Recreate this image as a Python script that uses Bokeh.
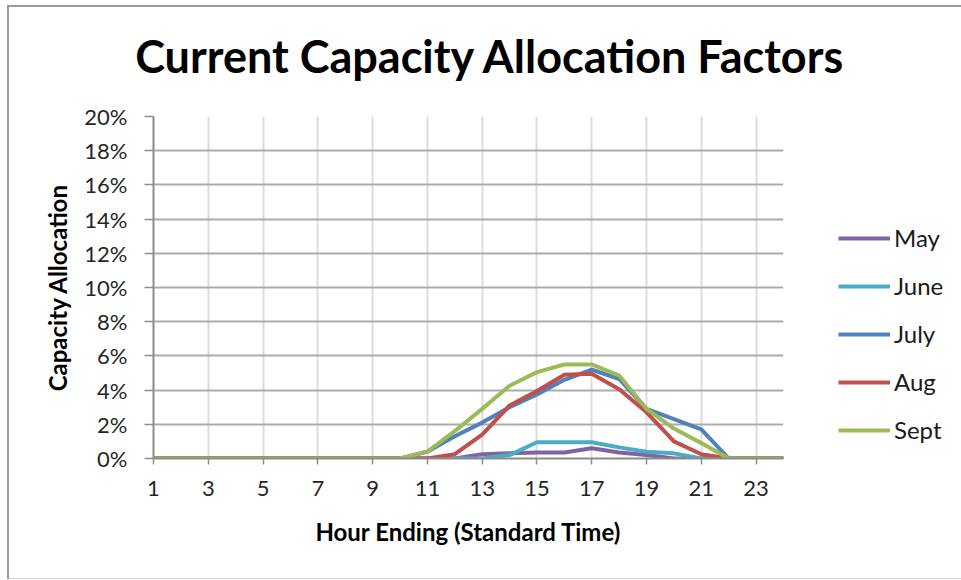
from bokeh.plotting import figure
from bokeh.models import (FixedTicker, PrintfTickFormatter, Legend, LegendItem,
                          Range1d, Label)
from bokeh.embed import file_html
from bokeh.resources import INLINE

# Hour ending (standard time)
hours = list(range(1, 25))

# Capacity allocation factor by hour, in percent
may = [0, 0, 0, 0, 0, 0, 0, 0, 0, 0, 0, 0,
       0.25, 0.3, 0.35, 0.35, 0.6, 0.35, 0.2, 0, 0, 0, 0, 0]
june = [0, 0, 0, 0, 0, 0, 0, 0, 0, 0, 0, 0,
        0, 0.2, 0.95, 0.95, 0.95, 0.65, 0.4, 0.3, 0, 0, 0, 0]
july = [0, 0, 0, 0, 0, 0, 0, 0, 0, 0, 0.4, 1.3,
        2.1, 3.0, 3.75, 4.6, 5.2, 4.65, 2.9, 2.3, 1.7, 0, 0, 0]
aug = [0, 0, 0, 0, 0, 0, 0, 0, 0, 0, 0, 0.25,
       1.4, 3.1, 3.95, 4.9, 4.95, 4.05, 2.7, 1.0, 0.25, 0, 0, 0]
sept = [0, 0, 0, 0, 0, 0, 0, 0, 0, 0, 0.4, 1.6,
        2.9, 4.25, 5.05, 5.5, 5.5, 4.85, 2.9, 1.75, 0.9, 0, 0, 0]

series_names = ["May", "June", "July", "Aug", "Sept"]
series_values = [may, june, july, aug, sept]
series_colors = ["#8064A2", "#4BACC6", "#4F81BD", "#C0504D", "#9BBB59"]

x_ticks = list(range(1, 24, 2))
y_ticks = list(range(0, 21, 2))

FONT = "Lato"

p = figure(frame_width=630, frame_height=342,
           output_backend="svg", toolbar_location=None,
           x_range=Range1d(1, 24), y_range=Range1d(0, 20),
           min_border_left=146, min_border_right=171,
           min_border_top=111, min_border_bottom=121,
           margin=(5, 0, 0, 7))
p.outline_line_color = None
p.background_fill_color = "white"
p.border_fill_alpha = 0
# chart area border on the left, top and bottom edges
p.styles = {"box-shadow": "inset 2px 2px 0 #9a9a9a, inset 0 -1px 0 #d4d4d4",
            "background-color": "white"}

# chart title, placed in the panel above the plot area
p.add_layout(Label(x=337, y=61, x_units="screen", y_units="screen",
                   text="Current Capacity Allocation Factors",
                   text_font=FONT, text_font_style="bold",
                   text_font_size="45px", text_color="black",
                   text_align="center", text_baseline="middle"), "above")

# axes
for ax in (p.xaxis, p.yaxis):
    ax.axis_line_color = "#8c8c8c"
    ax.axis_line_width = 2
    ax.major_tick_line_color = "#8c8c8c"
    ax.major_tick_line_width = 1.5
    ax.major_tick_in = 0
    ax.minor_tick_line_color = None
    ax.major_label_text_font = FONT
    ax.major_label_text_font_size = "22px"
    ax.major_label_text_color = "#262626"
    ax.axis_label_text_font = FONT
    ax.axis_label_text_font_style = "bold"
    ax.axis_label_text_font_size = "24px"
    ax.axis_label_text_color = "black"

p.xaxis.ticker = FixedTicker(ticks=x_ticks)
p.xaxis.major_tick_out = 6
p.xaxis.major_label_standoff = 16
p.xaxis.axis_label = "Hour Ending (Standard Time)"
p.xaxis.axis_label_standoff = 18

p.yaxis.ticker = FixedTicker(ticks=y_ticks)
p.yaxis.formatter = PrintfTickFormatter(format="%d%%")
p.yaxis.major_tick_out = 9
p.yaxis.major_label_standoff = 17
p.yaxis.axis_label = "Capacity Allocation"
p.yaxis.axis_label_standoff = 9

# gridlines
p.xgrid.ticker = FixedTicker(ticks=x_ticks)
p.xgrid.grid_line_color = "#dcdcdc"
p.xgrid.grid_line_width = 2
p.ygrid.ticker = FixedTicker(ticks=y_ticks)
p.ygrid.grid_line_color = "#ababab"
p.ygrid.grid_line_width = 2

# series lines
items = []
for name, vals, col in zip(series_names, series_values, series_colors):
    r = p.line(hours, vals, line_color=col, line_width=4, line_join="round")
    items.append(LegendItem(label=name, renderers=[r]))

legend = Legend(items=items, location=(55, 14),
                glyph_width=52, glyph_height=28, label_height=28,
                spacing=19, padding=0, margin=0, label_standoff=4,
                label_text_font=FONT, label_text_font_size="24px",
                label_text_color="#1a1a1a",
                border_line_color=None, background_fill_alpha=0)
p.add_layout(legend, "right")

open("out.html", "w").write(file_html(p, INLINE))
